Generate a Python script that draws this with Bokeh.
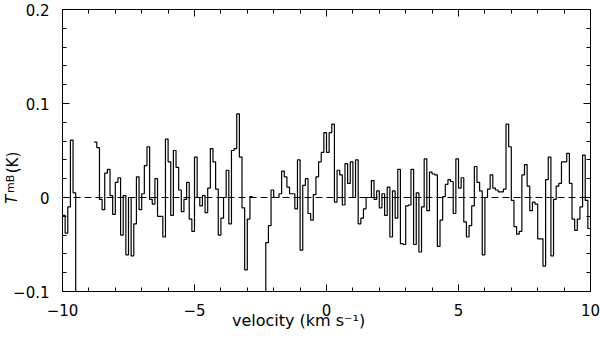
import json
import numpy as np
from bokeh.plotting import figure
from bokeh.models import (Range1d, FixedTicker, LinearAxis, Span,
                          CustomJSTickFormatter, ColumnDataSource)
from bokeh.embed import file_html
from bokeh.resources import INLINE

nan = float("nan")

# ---- data -------------------------------------------------------------
channel_width = 0.1      # km/s
first_channel = -9.95    # km/s, centre of first channel

tmb = [
    -0.019, -0.038, -0.010, 0.061, 0.005, -0.15, nan, nan, nan, nan,
    nan, nan, 0.059, 0.053, -0.002, -0.013, 0.026, 0.030, 0.002, -0.018,
    0.016, 0.021, -0.040, 0.002, -0.061, 0.000, -0.062, -0.028, 0.022, -0.013,
    0.004, 0.034, 0.054, -0.002, -0.007, 0.020, -0.020, -0.020, -0.042, 0.062,
    0.038, -0.019, 0.050, 0.032, 0.008, -0.015, -0.002, 0.016, -0.023, -0.036,
    0.043, 0.000, -0.009, 0.002, -0.016, 0.010, 0.052, 0.038, 0.009, -0.040,
    -0.022, 0.000, 0.029, -0.028, 0.050, 0.052, 0.089, 0.043, -0.011, -0.077,
    -0.023, 0.001, nan, nan, nan, nan, -0.15, -0.048, -0.030, 0.008,
    0.000, 0.000, 0.004, 0.028, 0.022, 0.011, 0.004, 0.004, -0.012, 0.040,
    -0.056, 0.013, 0.020, -0.017, -0.024, 0.003, 0.022, 0.038, 0.048, 0.069,
    0.048, 0.069, 0.078, -0.005, 0.029, 0.024, -0.008, 0.036, 0.015, 0.038,
    0.000, 0.040, -0.028, -0.022, -0.012, 0.000, 0.000, 0.018, -0.002, 0.007,
    -0.011, 0.004, -0.019, 0.011, -0.042, 0.007, -0.022, 0.030, -0.049, -0.050,
    -0.009, -0.008, 0.030, -0.050, 0.005, -0.058, -0.010, 0.041, -0.014, 0.027,
    0.025, 0.024, -0.052, -0.024, 0.001, 0.014, 0.019, 0.017, -0.017, 0.041,
    0.010, 0.021, -0.026, -0.042, -0.030, -0.009, 0.033, 0.016, 0.007, -0.061,
    0.000, 0.009, 0.024, 0.010, 0.008, 0.006, 0.006, 0.009, 0.078, 0.054,
    -0.003, -0.031, -0.039, -0.036, 0.024, 0.035, 0.012, -0.014, -0.005, -0.007,
    -0.044, -0.044, -0.073, 0.019, 0.043, -0.062, -0.002, 0.012, 0.015, 0.038,
    0.038, 0.047, 0.015, -0.023, -0.035, -0.023, -0.010, 0.045, -0.003, -0.033,
]
velocity = first_channel + channel_width * np.arange(len(tmb))

x_major_ticks = [-10, -5, 0, 5, 10]
x_minor_ticks = [-10, -9, -8, -7, -6, -5, -4, -3, -2, -1, 0,
                 1, 2, 3, 4, 5, 6, 7, 8, 9, 10]
y_major_ticks = [-0.1, 0, 0.1, 0.2]
y_minor_ticks = [-0.1, -0.08, -0.06, -0.04, -0.02, 0, 0.02, 0.04, 0.06, 0.08,
                 0.1, 0.12, 0.14, 0.16, 0.18, 0.2]
x_title = "velocity (km s\u207b\u00b9)"
# y title pieces: (text, centre along the axis in data units, size, style, standoff)
y_title_parts = [
    ("mB", 0.0145, "11px", "normal", -7),
    ("T", -0.0021, "15px", "italic", -20),
    ("(K)", 0.0372, "15px", "normal", -22),
]

# ---- histogram-style (stairs) path, broken at blanked channels -----------
t = np.asarray(tmb, dtype=float)
left_edges = velocity - channel_width / 2
right_edges = velocity + channel_width / 2
xs, ys = [], []
prev_ok = False
for l, r, y in zip(left_edges, right_edges, t):
    if np.isfinite(y):
        xs += [l, r]
        ys += [y, y]
        prev_ok = True
    else:
        if prev_ok:
            xs.append(nan)
            ys.append(nan)
        prev_ok = False
src = ColumnDataSource(data=dict(x=xs, y=ys))

# ---- figure ----------------------------------------------------------------
FONT = "DejaVu Sans"
p = figure(width=600, height=341, x_range=Range1d(-10, 10), y_range=Range1d(-0.1, 0.2),
           output_backend="svg", toolbar_location=None,
           x_axis_type=None, y_axis_type=None,
           min_border_left=62, min_border_right=10, min_border_top=9, min_border_bottom=50)
p.background_fill_color = "white"
p.border_fill_color = "white"
p.outline_line_color = "black"
p.outline_line_width = 1

minus_fmt = "return String(tick).replace('-', '\u2212');"

def make_axis(ticks, minor, show_labels, standoff):
    ax = LinearAxis(ticker=FixedTicker(ticks=ticks, minor_ticks=minor))
    ax.formatter = CustomJSTickFormatter(code=minus_fmt)
    ax.axis_line_color = None
    ax.major_tick_in = 7
    ax.major_tick_out = 0
    ax.minor_tick_in = 4
    ax.minor_tick_out = 0
    ax.major_tick_line_color = "black"
    ax.minor_tick_line_color = "black"
    ax.major_label_text_font = FONT
    if show_labels:
        ax.major_label_text_color = "black"
        ax.major_label_text_font_size = "15px"
        ax.major_label_standoff = standoff
    else:
        ax.major_label_text_color = None
        ax.major_label_text_font_size = "1px"
        ax.major_label_standoff = 0
    return ax

def title_axis(pos, text, size, style, standoff):
    ax = LinearAxis(ticker=FixedTicker(ticks=[pos], minor_ticks=[]))
    ax.formatter = CustomJSTickFormatter(code="return %s;" % json.dumps(text))
    ax.axis_line_color = None
    ax.major_tick_line_color = None
    ax.minor_tick_line_color = None
    ax.major_tick_in = 0
    ax.major_tick_out = 0
    ax.minor_tick_in = 0
    ax.minor_tick_out = 0
    ax.major_label_orientation = "vertical"
    ax.major_label_text_font = FONT
    ax.major_label_text_font_size = size
    ax.major_label_text_font_style = style
    ax.major_label_text_color = "black"
    ax.major_label_standoff = standoff
    return ax

bottom = make_axis(x_major_ticks, x_minor_ticks, True, 12)
# trailing no-break spaces move the centred title to the left, as in the original
bottom.axis_label = x_title + "\u00a0" * 11
bottom.axis_label_text_font = FONT
bottom.axis_label_text_font_size = "16px"
bottom.axis_label_text_font_style = "normal"
bottom.axis_label_text_color = "black"
bottom.axis_label_standoff = -8
p.add_layout(bottom, "below")
p.add_layout(make_axis(y_major_ticks, y_minor_ticks, True, 13), "left")
for text, pos, size, style, standoff in y_title_parts:
    p.add_layout(title_axis(pos, text, size, style, standoff), "left")
p.add_layout(make_axis(x_major_ticks, x_minor_ticks, False, 0), "above")
p.add_layout(make_axis(y_major_ticks, y_minor_ticks, False, 0), "right")

p.add_layout(Span(location=0, dimension="width", line_color="black",
                  line_width=1, line_dash="7 4"))

p.line(x="x", y="y", source=src, line_color="black", line_width=1.2)

open("out.html", "w").write(file_html(p, INLINE))
